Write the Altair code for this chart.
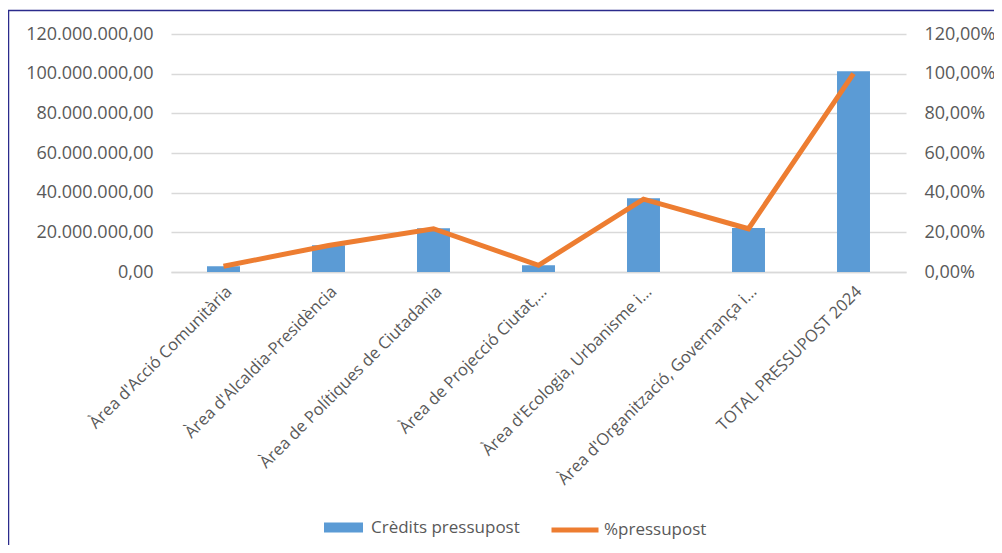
import altair as alt
import pandas as pd

categories = [
    "Àrea d'Acció Comunitària",
    "Àrea d'Alcaldia-Presidència",
    "Àrea de Polítiques de Ciutadania",
    "Àrea de Projecció Ciutat,...",
    "Àrea d'Ecologia, Urbanisme i...",
    "Àrea d'Organització, Governança i...",
    "TOTAL PRESSUPOST 2024",
]
credits = [2.9e6, 13.5e6, 22.0e6, 3.4e6, 37.2e6, 22.2e6, 101.2e6]
pct = [0.029, 0.134, 0.218, 0.034, 0.367, 0.218, 1.0]

left_ticks = [0, 20e6, 40e6, 60e6, 80e6, 100e6, 120e6]
right_ticks = [0, 0.2, 0.4, 0.6, 0.8, 1.0, 1.2]

df = pd.DataFrame({"cat": categories, "credits": credits, "pct": pct})

FONT = "Open Sans"
GRAY = "#595959"
BLUE = "#5B9BD5"
ORANGE = "#ED7D31"

x_enc = alt.X(
    "cat:N",
    sort=categories,
    scale=alt.Scale(paddingInner=0.686, paddingOuter=0.343),
    axis=alt.Axis(
        title=None, labelAngle=-45, labelAlign="right", labelBaseline="top",
        labelFont=FONT, labelFontSize=16.5, labelColor=GRAY, ticks=False,
        domain=True, domainColor="#D9D9D9", domainWidth=1.5, labelPadding=11,
        labelLimit=400, grid=False,
    ),
)

base = alt.Chart(df)

bars = base.transform_calculate(s1="'Crèdits pressupost'").mark_bar().encode(
    x=x_enc,
    y=alt.Y(
        "credits:Q",
        scale=alt.Scale(domain=[0, 120e6], nice=False),
        axis=alt.Axis(
            title=None, values=left_ticks, format=",.2f", labelFont=FONT,
            labelFontSize=18, labelColor=GRAY, ticks=False, domain=False,
            gridColor="#D9D9D9", gridWidth=1.5, labelPadding=18,
        ),
    ),
    fill=alt.Fill(
        "s1:N",
        scale=alt.Scale(domain=["Crèdits pressupost"], range=[BLUE]),
        legend=alt.Legend(
            title=None, orient="none", legendX=153, legendY=474,
            symbolType="M-1,-0.26H1V0.26H-1Z", symbolSize=1521,
            symbolStrokeWidth=0, labelFont=FONT, labelFontSize=17,
            labelColor=GRAY, labelOffset=8,
        ),
    ),
)

line = base.transform_calculate(s2="'%pressupost'").mark_line(strokeWidth=5).encode(
    x=x_enc,
    y=alt.Y(
        "pct:Q",
        scale=alt.Scale(domain=[0, 1.2], nice=False),
        axis=alt.Axis(
            title=None, values=right_ticks, format=".2%", orient="right",
            labelFont=FONT, labelFontSize=18, labelColor=GRAY, ticks=False,
            domain=False, grid=False, labelPadding=18,
        ),
    ),
    stroke=alt.Stroke(
        "s2:N",
        scale=alt.Scale(domain=["%pressupost"], range=[ORANGE]),
        legend=alt.Legend(
            title=None, orient="none", legendX=378, legendY=470,
            symbolType="M-1,0H1", symbolSize=2209, symbolStrokeWidth=5,
            labelFont=FONT, labelFontSize=17, labelColor=GRAY, labelOffset=3,
        ),
    ),
)

frame_top = alt.Chart(pd.DataFrame({"k": [0]})).mark_rule(color="#2B2B8C", strokeWidth=1.5).encode(
    x=alt.value(-163), x2=alt.value(840), y=alt.value(-23.5)
)
frame_left = alt.Chart(pd.DataFrame({"k": [0]})).mark_rule(color="#2B2B8C", strokeWidth=1.5).encode(
    x=alt.value(-162.5), y=alt.value(-23.5), y2=alt.value(520)
)

chart = (
    alt.layer(bars, line, frame_top, frame_left)
    .resolve_scale(y="independent")
    .properties(
        width=735, height=238,
        autosize=alt.AutoSizeParams(type="none"),
        padding={"left": 163, "top": 26, "right": 88, "bottom": 273},
        background="white",
    )
    .configure_view(strokeWidth=0, stroke="transparent")
    .configure_axisY(domain=False, domainOpacity=0)
    .configure(
        locale={"number": {"decimal": ",", "thousands": ".", "grouping": [3], "currency": ["", " €"]}},
        style={"cell": {"stroke": "transparent", "strokeWidth": 0}},
    )
)

chart.save("out.html", embed_options={"renderer": "svg", "actions": False})
